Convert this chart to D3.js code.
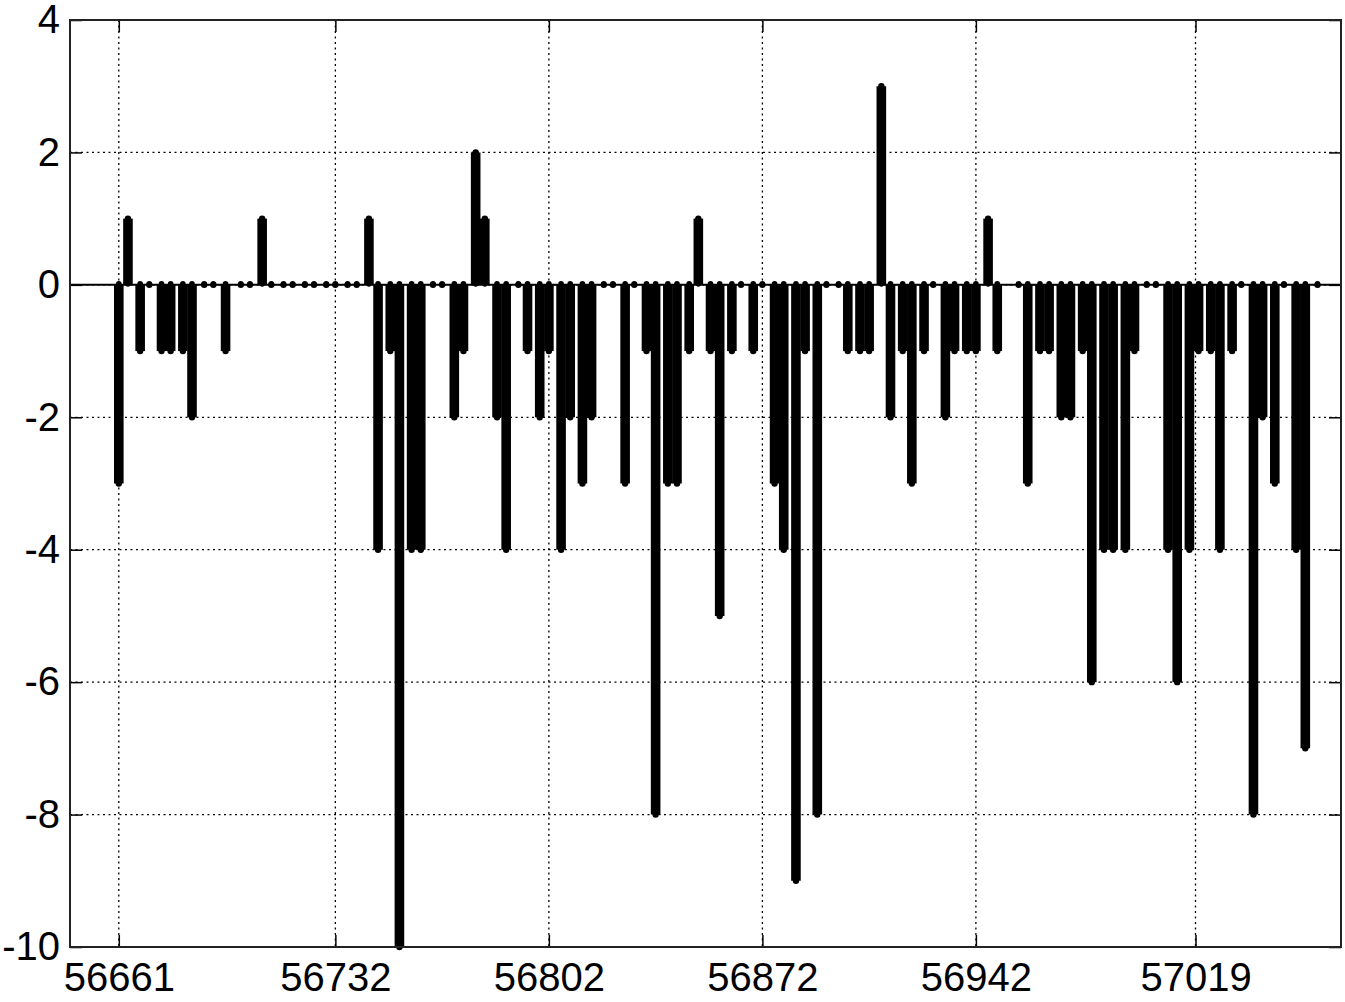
<!DOCTYPE html>
<html>
<head>
<meta charset="utf-8">
<script src="https://cdnjs.cloudflare.com/ajax/libs/d3/7.8.5/d3.min.js"></script>
<style>
  body { margin: 0; background: #fff; }
  text { font-family: Arial, "Liberation Sans", sans-serif; fill: #000; }
</style>
</head>
<body>
<script>
// dates (MJD) of each observation
var mjd = [56661, 56664, 56668, 56671, 56675, 56678, 56682, 56685, 56689, 56692,
  56696, 56701, 56704, 56708, 56711, 56715, 56718, 56722, 56725, 56729,
  56732, 56736, 56739, 56743, 56746, 56750, 56753, 56757, 56760, 56764,
  56767, 56771, 56774, 56778, 56781, 56785, 56788, 56792, 56795, 56799,
  56802, 56806, 56809, 56813, 56816, 56820, 56823, 56827, 56830, 56834,
  56837, 56841, 56844, 56848, 56851, 56855, 56858, 56862, 56865, 56869,
  56872, 56876, 56879, 56883, 56886, 56890, 56893, 56897, 56900, 56904,
  56907, 56911, 56914, 56918, 56921, 56925, 56928, 56932, 56935, 56939,
  56942, 56946, 56949, 56956, 56959, 56963, 56966, 56970, 56973, 56977,
  56980, 56984, 56987, 56991, 56994, 56998, 57001, 57005, 57008, 57012,
  57015, 57019, 57022, 57026, 57029, 57033, 57036, 57040, 57043, 57047,
  57050, 57054];
// value at each date
var vals = [-3, 1, -1, 0, -1, -1, -1, -2, 0, 0,
  -1, 0, 0, 1, 0, 0, 0, 0, 0, 0,
  0, 0, 0, 1, -4, -1, -10, -4, -4, 0,
  0, -2, -1, 2, 1, -2, -4, 0, -1, -2,
  -1, -4, -2, -3, -2, 0, 0, -3, 0, -1,
  -8, -3, -3, -1, 1, -1, -5, -1, 0, -1,
  0, -3, -4, -9, -1, -8, 0, 0, -1, -1,
  -1, 3, -2, -1, -3, -1, 0, -2, -1, -1,
  -1, 1, -1, 0, -3, -1, -1, -2, -2, -1,
  -6, -4, -4, -4, -1, 0, 0, -4, -6, -4,
  -1, -1, -4, -1, 0, -8, -2, -3, 0, -4,
  -7, 0];

var xTicks = [56661, 56732, 56802, 56872, 56942, 57014];
var xTickLabels = ["56661", "56732", "56802", "56872", "56942", "57019"];
var yTicks = [-10, -8, -6, -4, -2, 0, 2, 4];

var W = 1345, H = 1002;
var pL = 70, pR = 1341, pT = 20, pB = 947;

var svg = d3.select("body").append("svg").attr("width", W).attr("height", H);
svg.append("rect").attr("width", W).attr("height", H).attr("fill", "#fff");

var x = d3.scaleLinear().domain([56645, 57061.7]).range([pL, pR]);
var y = d3.scaleLinear().domain([-10, 4]).range([pB, pT]);

// grille pointillée
var grid = svg.append("g");
grid.selectAll(".gx").data(xTicks).enter().append("line")
  .attr("x1", function(d){ return x(d); }).attr("x2", function(d){ return x(d); })
  .attr("y1", pT).attr("y2", pB)
  .attr("stroke", "#000").attr("stroke-width", 1.3).attr("stroke-dasharray", "2,3.5");
grid.selectAll(".gy").data(yTicks).enter().append("line")
  .attr("x1", pL).attr("x2", pR)
  .attr("y1", function(d){ return y(d); }).attr("y2", function(d){ return y(d); })
  .attr("stroke", "#000").attr("stroke-width", 1.3).attr("stroke-dasharray", "2,3.5");

// baseline at 0
svg.append("line").attr("x1", pL).attr("x2", pR)
  .attr("y1", y(0)).attr("y2", y(0)).attr("stroke", "#000").attr("stroke-width", 2);

// stems
var pts = mjd.map(function(m, i){ return {m: m, v: vals[i]}; });
svg.append("g").selectAll("line").data(pts.filter(function(d){ return d.v != 0; })).enter().append("line")
  .attr("x1", function(d){ return x(d.m); }).attr("x2", function(d){ return x(d.m); })
  .attr("y1", y(0)).attr("y2", function(d){ return y(d.v); })
  .attr("stroke", "#000").attr("stroke-width", 9.6);
// markers
svg.append("g").selectAll("circle").data(pts).enter().append("circle")
  .attr("cx", function(d){ return x(d.m); }).attr("cy", function(d){ return y(d.v); })
  .attr("r", 3.2).attr("fill", "#000");
svg.append("g").selectAll("circle").data(pts).enter().append("circle")
  .attr("cx", function(d){ return x(d.m); }).attr("cy", y(0) - 1)
  .attr("r", 2.8).attr("fill", "#000");

// axes (ticks inside, box)
var axB = d3.axisBottom(x).tickValues(xTicks).tickFormat(function(d, i){ return xTickLabels[i]; })
  .tickSizeInner(-12).tickSizeOuter(0).tickPadding(16);
var axT = d3.axisTop(x).tickValues(xTicks).tickFormat("").tickSizeInner(-12).tickSizeOuter(0);
var axL = d3.axisLeft(y).tickValues(yTicks).tickFormat(function(d){ return String(d); })
  .tickSizeInner(-12).tickSizeOuter(0).tickPadding(10);
var axR = d3.axisRight(y).tickValues(yTicks).tickFormat("").tickSizeInner(-12).tickSizeOuter(0);

function styleAx(g){
  g.select(".domain").remove();
  g.selectAll("line").attr("stroke", "#000").attr("stroke-width", 1.5);
  g.selectAll("text").style("font-size", "40px").attr("fill", "#000");
}
svg.append("g").attr("transform", "translate(0," + pB + ")").call(axB).call(styleAx);
svg.append("g").attr("transform", "translate(0," + pT + ")").call(axT).call(styleAx);
svg.append("g").attr("transform", "translate(" + pL + ",0)").call(axL).call(styleAx);
svg.append("g").attr("transform", "translate(" + pR + ",0)").call(axR).call(styleAx);

svg.selectAll("text").attr("font-family", "Arial, 'Liberation Sans', sans-serif");

svg.append("rect").attr("x", pL).attr("y", pT).attr("width", pR - pL).attr("height", pB - pT)
  .attr("fill", "none").attr("stroke", "#222").attr("stroke-width", 2);
</script>
</body>
</html>
